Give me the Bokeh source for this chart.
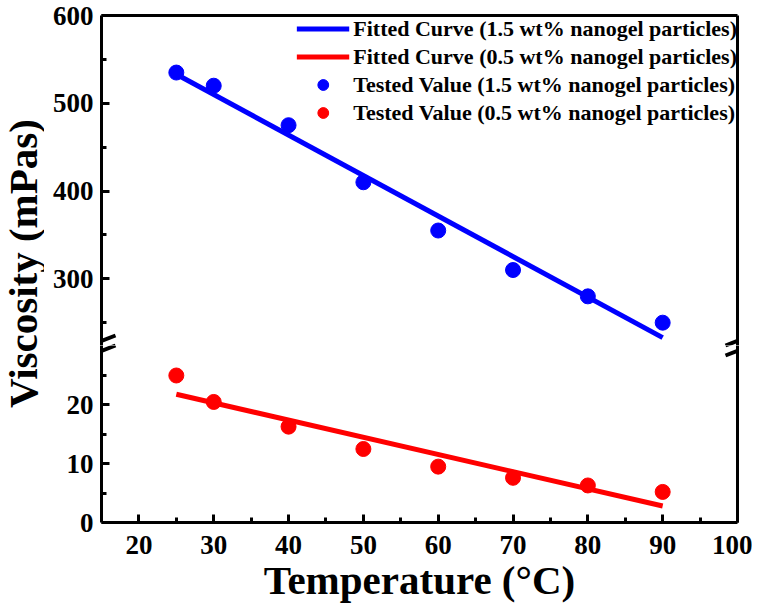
import math
from bokeh.plotting import figure
from bokeh.models import (Range1d, LinearAxis, FixedTicker, Legend, LegendItem,
                          Arrow, Label)
from bokeh.layouts import row, column
from bokeh.embed import file_html
from bokeh.resources import INLINE

# ---------------- data ----------------
temps = [25, 30, 40, 50, 60, 70, 80, 90]
visc_15 = [535, 520, 475, 410, 355, 310, 280, 250]
visc_05 = [25.0, 20.5, 16.3, 12.5, 9.5, 7.6, 6.3, 5.2]
fit_temps = [25, 90]
fit_15 = [533, 233]
fit_05 = [21.8, 2.8]

x_ticks = [20, 30, 40, 50, 60, 70, 80, 90, 100]
x_minor = [25, 35, 45, 55, 65, 75, 85, 95]
upper_ticks = [300, 400, 500, 600]
upper_minor = [250, 350, 450, 550]
lower_ticks = [0, 10, 20]
lower_minor = [5, 15, 25]

legend_labels = [
    "Fitted Curve (1.5 wt% nanogel particles)",
    "Fitted Curve (0.5 wt% nanogel particles)",
    "Tested Value (1.5 wt% nanogel particles)",
    "Tested Value (0.5 wt% nanogel particles)",
]
x_label = "Temperature (°C)"
y_label = "Viscosity (mPas)"

# ---------------- style ----------------
FONT = "Liberation Serif"
BLUE = "#0000ff"
RED = "#ff0000"
TICK_FS = "27px"
LABEL_FS = "41px"

X_START, X_END = 15, 100
UP_START, UP_END = 224, 600
LO_START, LO_END = 0, 30.1

LAB_W = 44
FRAME_W = 636
UP_H = 330
LO_H = 177
LEFT, RIGHT, TOP, BOTTOM = 57, 15, 15, 88

x_range = Range1d(X_START, X_END)
up_range = Range1d(UP_START, UP_END)
lo_range = Range1d(LO_START, LO_END)


def make_fig(yr, fh, top, bottom):
    p = figure(frame_width=FRAME_W, frame_height=fh, x_range=x_range, y_range=yr,
               x_axis_location=None, y_axis_location=None, toolbar_location=None,
               output_backend="svg", min_border_left=LEFT, min_border_right=RIGHT,
               min_border_top=top, min_border_bottom=bottom,
               outline_line_color=None, background_fill_color="white",
               border_fill_color="white")
    p.grid.visible = False
    return p


def make_axis(ticks, minor, labels=True):
    ax = LinearAxis(ticker=FixedTicker(ticks=ticks, minor_ticks=minor))
    ax.axis_line_width = 3
    ax.axis_line_color = "black"
    ax.major_tick_in = 8
    ax.major_tick_out = 0
    ax.minor_tick_in = 5
    ax.minor_tick_out = 0
    ax.major_tick_line_width = 3
    ax.minor_tick_line_width = 3
    ax.major_label_text_font = FONT
    ax.major_label_text_font_style = "bold"
    ax.major_label_text_color = "black"
    if labels:
        ax.major_label_text_font_size = TICK_FS
        ax.major_label_standoff = 8
    else:
        ax.major_label_text_font_size = "0px"
        ax.major_label_standoff = 0
    return ax


# ---------------- upper panel ----------------
up = make_fig(up_range, UP_H, TOP, 0)
up.add_layout(make_axis(upper_ticks, upper_minor), "left")
up.add_layout(make_axis([], []), "right")
up.add_layout(make_axis([], []), "above")

r_l15 = up.line(fit_temps, fit_15, line_color=BLUE, line_width=5)
r_s15 = up.scatter(temps, visc_15, size=15, color=BLUE)
# legend proxies for the red series (the red data are drawn in the lower panel)
nan = float("nan")
r_l05p = up.line([nan], [nan], line_color=RED, line_width=5)
r_s05p = up.scatter([nan], [nan], size=15, color=RED)

legend = Legend(items=[
    LegendItem(label=legend_labels[0], renderers=[r_l15]),
    LegendItem(label=legend_labels[1], renderers=[r_l05p]),
    LegendItem(label=legend_labels[2], renderers=[r_s15]),
    LegendItem(label=legend_labels[3], renderers=[r_s05p]),
], location="top_right")
legend.border_line_color = None
legend.background_fill_alpha = 0
legend.margin = 0
legend.padding = 3
legend.spacing = 1
legend.glyph_width = 53
legend.glyph_height = 27
legend.label_height = 27
legend.label_standoff = 4
legend.label_text_font = FONT
legend.label_text_font_style = "bold"
legend.label_text_font_size = "22px"
legend.label_text_color = "black"
up.add_layout(legend)

# ---------------- lower panel ----------------
lo = make_fig(lo_range, LO_H, 0, BOTTOM)
lo.add_layout(make_axis(lower_ticks, lower_minor), "left")
lo.add_layout(make_axis([], []), "right")
xax = make_axis(x_ticks, x_minor)
xax.major_label_standoff = 13
xax.axis_label = x_label
xax.axis_label_text_font = FONT
xax.axis_label_text_font_style = "bold"
xax.axis_label_text_font_size = LABEL_FS
xax.axis_label_text_color = "black"
xax.axis_label_standoff = 0
lo.add_layout(xax, "below")

lo.line(fit_temps, fit_05, line_color=RED, line_width=5)
lo.scatter(temps, visc_05, size=15, color=RED)

# ---------------- axis-break marks ----------------
xs = FRAME_W / (X_END - X_START)
ys_up = UP_H / (UP_END - UP_START)
ys_lo = LO_H / (LO_END - LO_START)
slashes = [((-12, 0), (14, -10)), ((-12, 10), (14, 0))]  # pixel offsets, dy down
for p, ybreak, ys in ((up, UP_START, ys_up), (lo, LO_END, ys_lo)):
    for xaxis_pos in (X_START, X_END):
        for (dx0, dy0), (dx1, dy1) in slashes:
            p.add_layout(Arrow(start=None, end=None,
                               x_start=xaxis_pos + dx0 / xs, y_start=ybreak - dy0 / ys,
                               x_end=xaxis_pos + dx1 / xs, y_end=ybreak - dy1 / ys,
                               line_color="black", line_width=4))

# ---------------- y-axis title ----------------
TOTAL_H = TOP + UP_H + LO_H + BOTTOM
lab = figure(width=LAB_W, height=TOTAL_H, x_range=Range1d(0, LAB_W), y_range=Range1d(0, TOTAL_H),
             x_axis_location=None, y_axis_location=None, toolbar_location=None,
             output_backend="svg", min_border=0, outline_line_color=None)
lab.grid.visible = False
lab.add_layout(Label(x=LAB_W / 2, y=TOTAL_H - 263, text=y_label, angle=math.pi / 2,
                     text_align="center", text_baseline="middle", text_font=FONT,
                     text_font_style="bold", text_font_size=LABEL_FS, text_color="black"))

layout = row(lab, column(up, lo, spacing=0), spacing=0)

open("out.html", "w").write(file_html(layout, INLINE))
